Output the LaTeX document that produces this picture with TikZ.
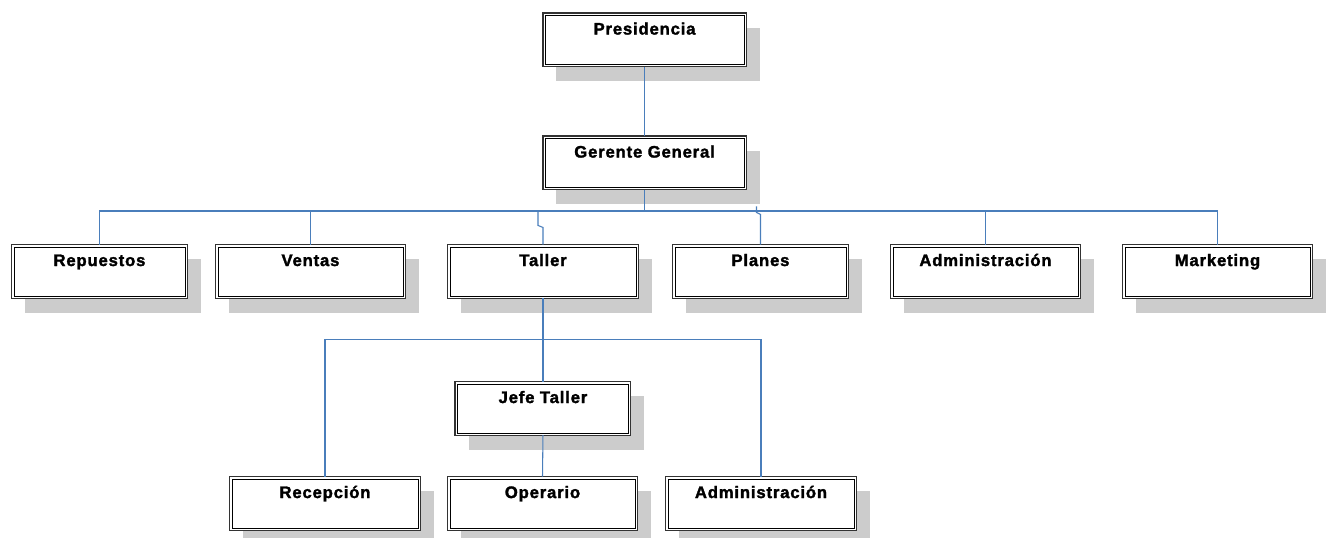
\documentclass[tikz,border=0pt]{standalone}
\usepackage{fontspec}
\setmainfont{Liberation Sans}[LetterSpace = 5, BoldFeatures = {FakeBold = 1.8}]
\usepackage{tikz}
\usetikzlibrary{positioning}
\usetikzlibrary{shadows}
\definecolor{lineBlue}{RGB}{74,126,187}

\begin{document}
\begin{tikzpicture}[font = \fontsize{12.5}{14}\selectfont\bfseries,
                    orgBox/.style  = {draw = black!80, line width = 1.1pt, rectangle, fill = white,
                                      outer sep = 0pt, inner ysep = 0pt, text height = 16pt, text depth = 24.15pt,
                                      drop shadow = {shadow xshift = 10.2pt, shadow yshift = -10.8pt, fill = black!20, opacity = 1},
                                      path picture = {\draw [black, line width = 0.7pt]
                                                      ([shift = {(1.7pt, 1.7pt)}]path picture bounding box.south west) rectangle
                                                      ([shift = {(-1.7pt, -1.7pt)}]path picture bounding box.north east);}},
                    orgLine/.style = {draw = lineBlue, line width = 0.8pt}]
    \useasboundingbox (0pt, 0pt) rectangle (997.5pt, -403.5pt);

    \node [orgBox, minimum width = 152.65pt] at (483.4pt, -30pt)                        (presidencia) {Presidencia};
    \node [orgBox, minimum width = 152.65pt, below = 52.1pt of presidencia]              (gerente)     {Gerente General};

    \node [orgBox, minimum width = 131.65pt] at (74.6pt, -203.6pt)                       (repuestos)   {Repuestos};
    \node [orgBox, minimum width = 142.15pt, right = 21.35pt of repuestos]               (ventas)      {Ventas};
    \node [orgBox, minimum width = 142.9pt,  right = 31.85pt of ventas]                  (taller)      {Taller};
    \node [orgBox, minimum width = 131.65pt, right = 25.85pt of taller]                  (planes)      {Planes};
    \node [orgBox, minimum width = 142.15pt, right = 31.85pt of planes]                  (admin)       {Administración};
    \node [orgBox, minimum width = 142.15pt, right = 31.85pt of admin]                   (marketing)   {Marketing};

    \node [orgBox, minimum width = 131.65pt, below = 62.6pt of taller]                   (jefeTaller)  {Jefe Taller};

    \node [orgBox, minimum width = 142.9pt] at (243.75pt, -377.6pt)                      (recepcion)   {Recepción};
    \node [orgBox, minimum width = 142.15pt, right = 20.6pt of recepcion]                (operario)    {Operario};
    \node [orgBox, minimum width = 142.9pt,  right = 21.35pt of operario]                (adminTaller) {Administración};

    % connectors
    \path (gerente.south) ++(0, -15.95pt) coordinate (busTop);
    \path (taller.south)  ++(0, -30.95pt) coordinate (busLow);

    \draw [orgLine] (presidencia.south) -- (gerente.north);
    \draw [orgLine] (gerente.south) -- (busTop);
    \draw [orgLine] (repuestos.north) |- (busTop) -| (marketing.north);
    \draw [orgLine] (ventas.north) -- (ventas.north |- busTop);
    \draw [orgLine] (taller.north) -- ++(0, 12.95pt) -- ++(-3.75pt, 1.5pt) |- (busTop);
    \draw [orgLine] (planes.north) -- ++(0, 22.7pt) -- ++(-3pt, 1.5pt) -- ++(0, 4.5pt);
    \draw [orgLine] (admin.north) -- (admin.north |- busTop);

    \draw [orgLine] (taller.south) -- (jefeTaller.north);
    \draw [orgLine] (recepcion.north) |- (busLow) -| (adminTaller.north);
    \draw [orgLine] (jefeTaller.south) -- (operario.north);
\end{tikzpicture}
\end{document}
